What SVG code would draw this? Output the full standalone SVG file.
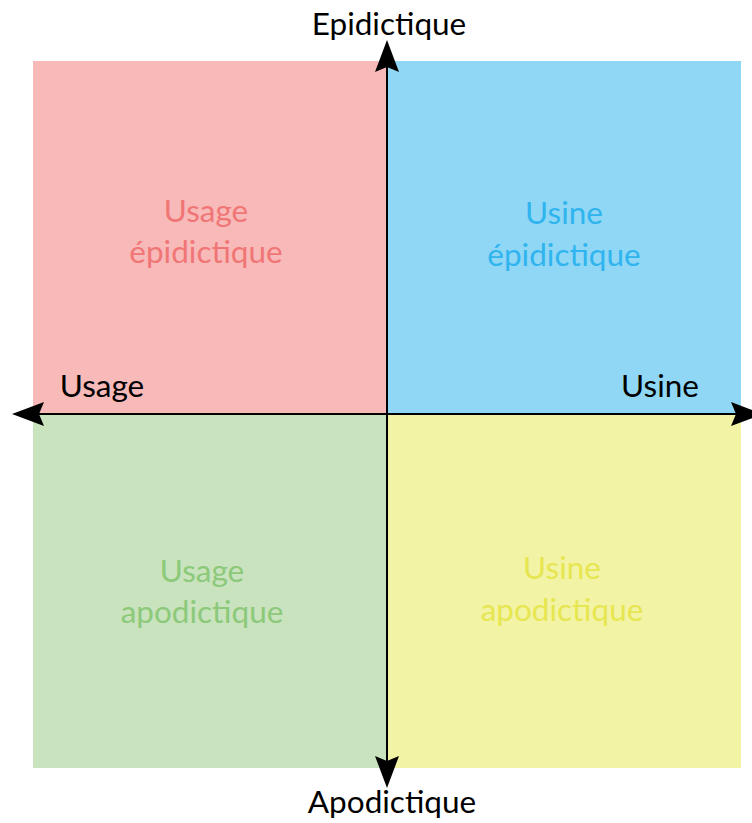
<svg xmlns="http://www.w3.org/2000/svg" width="752" height="823" viewBox="0 0 752 823">
<style>
.lbl{font-family:Lato,"Open Sans","Liberation Sans",sans-serif;font-size:31.5px;text-anchor:middle}
.axis{fill:#000}
.ax{stroke:#000;stroke-width:2;fill:none}
</style>
<defs>
<marker id="arr" markerUnits="userSpaceOnUse" markerWidth="40" markerHeight="30" viewBox="0 -15 40 30" refX="5" refY="0" orient="auto-start-reverse" overflow="visible">
<path d="M0,-12 L32,0 L0,12 L5,0 Z" fill="#000"/>
</marker>
</defs>
<rect width="752" height="823" fill="#fff"/>
<g id="q-usage-epidictique">
<rect x="33" y="61" width="354" height="353" fill="#f8b9b9"/>
<text class="lbl" x="206" y="222" fill="#f07676">Usage</text>
<text class="lbl" x="206" y="263" fill="#f07676">épidictique</text>
</g>
<g id="q-usine-epidictique">
<rect x="387" y="61" width="354" height="353" fill="#90d7f6"/>
<text class="lbl" x="564" y="224" fill="#2fb4ee">Usine</text>
<text class="lbl" x="564" y="266" fill="#2fb4ee">épidictique</text>
</g>
<g id="q-usage-apodictique">
<rect x="33" y="414" width="354" height="354" fill="#c8e3bd"/>
<text class="lbl" x="202" y="582" fill="#8cc97a">Usage</text>
<text class="lbl" x="202" y="623" fill="#8cc97a">apodictique</text>
</g>
<g id="q-usine-apodictique">
<rect x="387" y="414" width="354" height="354" fill="#f3f3a5"/>
<text class="lbl" x="562" y="579" fill="#e6e650">Usine</text>
<text class="lbl" x="562" y="621" fill="#e6e650">apodictique</text>
</g>
<g id="connectors">
<line class="ax" x1="387" y1="67" x2="387" y2="761" marker-start="url(#arr)" marker-end="url(#arr)"/>
<line class="ax" x1="39" y1="414" x2="736" y2="414" marker-start="url(#arr)" marker-end="url(#arr)"/>
</g>
<g id="axis-labels">
<text class="lbl axis" x="389" y="35">Epidictique</text>
<text class="lbl axis" x="392" y="813">Apodictique</text>
<text class="lbl axis" x="102" y="397">Usage</text>
<text class="lbl axis" x="660" y="397">Usine</text>
</g>
</svg>
